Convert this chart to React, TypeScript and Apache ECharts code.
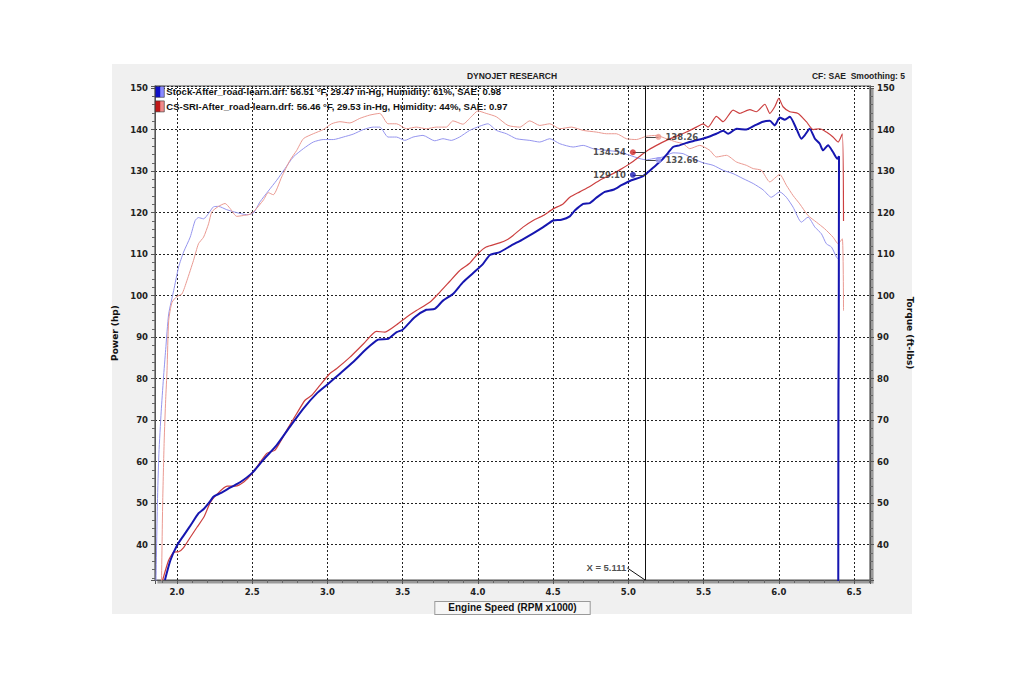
import React, { useEffect, useRef } from "react";
import * as echarts from "echarts";

// ---- data (RPM x1000, hp / ft-lbs) ----
const stockHpRpm = [1.92, 1.956, 2.0, 2.044, 2.089, 2.144, 2.178, 2.211, 2.244, 2.289, 2.356, 2.422, 2.5, 2.575, 2.663, 2.75, 2.84, 2.928, 3.0, 3.083, 3.171, 3.26, 3.337, 3.404, 3.46, 3.5, 3.58, 3.657, 3.713, 3.768, 3.834, 3.9, 3.967, 4.033, 4.08, 4.146, 4.223, 4.29, 4.367, 4.434, 4.5, 4.555, 4.611, 4.644, 4.7, 4.744, 4.788, 4.843, 4.9, 4.954, 5.02, 5.087, 5.12, 5.164, 5.22, 5.264, 5.297, 5.34, 5.386, 5.45, 5.52, 5.585, 5.63, 5.663, 5.72, 5.784, 5.84, 5.895, 5.94, 5.973, 6.006, 6.04, 6.073, 6.117, 6.15, 6.172, 6.205, 6.24, 6.272, 6.294, 6.327, 6.36, 6.389, 6.4, 6.398, 6.396, 6.395];
const stockHpVal = [31.5, 36.2, 39.8, 42.2, 44.6, 47.6, 48.6, 50.0, 51.6, 52.4, 53.8, 55.1, 57.3, 60.5, 64.0, 68.4, 72.8, 76.4, 78.6, 81.2, 84.0, 87.2, 89.4, 89.6, 91.2, 91.8, 94.8, 96.6, 96.8, 98.8, 100.4, 103.2, 105.4, 107.6, 109.8, 110.5, 112.1, 113.4, 115.0, 116.5, 118.1, 118.3, 119.1, 120.5, 122.1, 122.3, 123.6, 125.0, 125.5, 126.6, 127.8, 128.6, 129.4, 130.8, 132.6, 134.4, 135.8, 136.2, 136.8, 137.4, 138.1, 139.0, 139.7, 139.0, 140.2, 140.0, 141.0, 141.9, 142.1, 141.0, 142.9, 142.4, 143.1, 140.2, 137.8, 138.6, 140.2, 137.8, 136.6, 135.0, 136.2, 134.6, 133.0, 133.6, 90, 76, 30];

const sriHpRpm = [1.905, 1.944, 1.978, 2.011, 2.044, 2.089, 2.133, 2.178, 2.222, 2.267, 2.333, 2.389, 2.444, 2.5, 2.597, 2.652, 2.73, 2.796, 2.851, 2.896, 2.95, 3.018, 3.06, 3.15, 3.24, 3.326, 3.38, 3.46, 3.525, 3.591, 3.68, 3.746, 3.812, 3.878, 3.945, 4.0, 4.055, 4.144, 4.2, 4.234, 4.3, 4.367, 4.434, 4.5, 4.566, 4.611, 4.677, 4.744, 4.81, 4.876, 4.943, 5.01, 5.077, 5.12, 5.187, 5.253, 5.32, 5.386, 5.452, 5.497, 5.53, 5.585, 5.63, 5.696, 5.74, 5.807, 5.85, 5.907, 5.94, 5.973, 6.0, 6.028, 6.073, 6.128, 6.183, 6.228, 6.272, 6.316, 6.36, 6.394, 6.422, 6.43];
const sriHpVal = [31.5, 36.2, 38.2, 38.3, 39.3, 41.8, 44.2, 46.6, 50.2, 52.2, 54.1, 54.1, 55.1, 57.2, 62.0, 62.8, 67.6, 71.6, 74.8, 76.0, 78.4, 81.3, 82.4, 85.2, 88.4, 91.4, 91.2, 93.0, 94.8, 96.4, 98.4, 100.8, 103.4, 106.0, 107.8, 110.1, 111.7, 112.7, 113.6, 114.5, 116.5, 118.1, 119.3, 120.9, 122.1, 123.7, 125.0, 126.3, 127.8, 129.0, 130.3, 131.8, 133.6, 134.8, 136.2, 137.4, 138.4, 139.4, 140.6, 141.4, 140.6, 143.2, 141.9, 144.7, 143.9, 144.8, 144.3, 146.1, 143.9, 145.5, 147.5, 145.5, 144.3, 143.9, 141.9, 140.0, 140.2, 139.4, 138.2, 137.0, 139.0, 118.0];

const stockTqRpm = [1.86, 1.87, 1.88, 1.895, 1.91, 1.925, 1.945, 1.978, 2.011, 2.044, 2.088, 2.121, 2.143, 2.177, 2.21, 2.243, 2.276, 2.331, 2.397, 2.464, 2.508, 2.552, 2.607, 2.663, 2.718, 2.773, 2.84, 2.906, 2.972, 3.039, 3.105, 3.171, 3.238, 3.304, 3.348, 3.403, 3.459, 3.514, 3.569, 3.635, 3.713, 3.768, 3.823, 3.878, 3.945, 4.011, 4.066, 4.123, 4.19, 4.256, 4.345, 4.411, 4.478, 4.544, 4.633, 4.7, 4.766, 4.854, 4.943, 5.01, 5.077, 5.12, 5.164, 5.23, 5.297, 5.364, 5.43, 5.497, 5.563, 5.63, 5.696, 5.762, 5.83, 5.895, 5.95, 6.006, 6.05, 6.095, 6.15, 6.194, 6.24, 6.283, 6.316, 6.35, 6.383, 6.4, 6.397];
const stockTqVal = [30, 50, 62, 72, 80, 87, 95.6, 101.2, 106.9, 110.5, 114.1, 118.1, 118.8, 118.5, 119.8, 121.4, 121.5, 120.7, 120.0, 119.5, 119.9, 122.6, 125.2, 127.8, 130.6, 133.4, 135.4, 137.0, 137.6, 137.6, 138.2, 138.9, 140.0, 140.6, 140.6, 138.2, 138.2, 137.4, 138.2, 138.6, 137.3, 137.8, 137.4, 138.2, 139.8, 140.8, 141.4, 139.8, 139.0, 137.8, 137.4, 137.0, 137.8, 136.6, 135.8, 136.2, 135.4, 135.0, 134.6, 133.8, 133.0, 132.7, 133.0, 133.4, 134.4, 134.2, 133.0, 132.0, 131.4, 130.2, 129.4, 128.2, 127.0, 125.5, 123.7, 125.0, 123.7, 121.3, 117.7, 118.9, 116.5, 114.9, 112.5, 111.7, 109.3, 108.5, 30];

const sriTqRpm = [1.897, 1.905, 1.915, 1.925, 1.934, 1.945, 1.967, 2.0, 2.033, 2.066, 2.11, 2.143, 2.177, 2.21, 2.232, 2.276, 2.32, 2.353, 2.397, 2.441, 2.486, 2.519, 2.574, 2.607, 2.64, 2.696, 2.751, 2.796, 2.84, 2.906, 2.972, 3.028, 3.083, 3.149, 3.215, 3.282, 3.348, 3.403, 3.459, 3.525, 3.591, 3.657, 3.724, 3.79, 3.834, 3.9, 3.956, 4.0, 4.055, 4.122, 4.2, 4.278, 4.345, 4.411, 4.478, 4.544, 4.622, 4.7, 4.788, 4.854, 4.92, 4.987, 5.053, 5.12, 5.187, 5.253, 5.32, 5.364, 5.408, 5.475, 5.541, 5.585, 5.652, 5.718, 5.784, 5.83, 5.884, 5.94, 6.006, 6.05, 6.095, 6.139, 6.194, 6.25, 6.305, 6.36, 6.394, 6.422, 6.43];
const sriTqVal = [30, 50, 65, 75, 82, 94, 98.4, 99.8, 100.4, 103.6, 108.5, 112.5, 114.1, 117.3, 120.2, 121.5, 122.2, 121.0, 119.1, 119.3, 119.6, 120.6, 123.0, 124.8, 124.3, 128.6, 132.6, 135.0, 137.8, 139.0, 140.0, 141.4, 141.9, 141.6, 142.7, 143.5, 143.9, 141.4, 141.4, 140.2, 140.6, 140.2, 140.6, 140.6, 142.1, 141.3, 143.1, 144.5, 143.9, 143.1, 141.0, 140.6, 142.1, 141.0, 141.4, 140.2, 140.6, 139.8, 139.4, 139.0, 139.0, 137.8, 137.6, 138.4, 138.6, 137.8, 137.0, 136.6, 135.4, 136.2, 135.0, 133.4, 133.8, 132.2, 131.4, 130.6, 130.2, 127.4, 129.2, 126.6, 124.1, 122.1, 119.3, 117.7, 116.1, 114.1, 112.5, 113.7, 96.4];

// cursor readout
const cursorRpm = 5.111;
const readoutValues = [129.1, 134.54, 132.66, 138.26]; // stock hp, sri hp, stock tq, sri tq
const readoutLabels = ["129.10", "134.54", "132.66", "138.26"];
const readoutDotRpm = [5.03, 5.03, 5.2, 5.2];
const readoutColors = ["#1a1ab4", "#d02828", "#9a9af0", "#ec9a90"];
const readoutSides = ["left", "left", "right", "right"];
const cursorLabelAnchor = [4.993, 34.4];
const cursorAxisPoint = [5.111, 31.5];

const legendNames = [
  "Stock-After_road-learn.drf: 56.51 \u00B0F, 29.47 in-Hg, Humidity: 61%, SAE: 0.98",
  "CS-SRI-After_road-learn.drf: 56.46 \u00B0F, 29.53 in-Hg, Humidity: 44%, SAE: 0.97",
];

const zip = (a: number[], b: number[]) => a.map((x, i) => [x, b[i]]);

const tickFont = {
  fontFamily: "DejaVu Sans",
  fontWeight: "bold" as const,
  fontSize: 8.5,
  color: "#222",
};

export default function App() {
  const ref = useRef<HTMLDivElement>(null);
  useEffect(() => {
    const chart = echarts.init(ref.current!, null, { renderer: "svg" });
    const grad = (dark: string, light: string) => ({
      type: "linear",
      x: 0,
      y: 0,
      x2: 1,
      y2: 0,
      colorStops: [
        { offset: 0, color: dark },
        { offset: 0.5, color: dark },
        { offset: 0.6, color: light },
        { offset: 1, color: light },
      ],
    });
    const option: any = {
      animation: false,
      backgroundColor: "#ffffff",
      graphic: [
        {
          type: "rect",
          z: -5,
          silent: true,
          shape: { x: 112, y: 64, width: 800, height: 550 },
          style: { fill: "#f0f0f0" },
        },
      ],
      title: [
        {
          text: "DYNOJET RESEARCH",
          left: "center",
          top: 66,
          textStyle: { fontFamily: "Liberation Sans", fontWeight: "bold", fontSize: 8.5, color: "#222" },
        },
        {
          text: "CF: SAE  Smoothing: 5",
          right: 114,
          top: 66,
          textStyle: { fontFamily: "Liberation Sans", fontWeight: "bold", fontSize: 8.5, color: "#222" },
        },
      ],
      legend: {
        show: true,
        orient: "vertical",
        left: 155,
        top: 86,
        icon: "rect",
        itemWidth: 9,
        itemHeight: 11,
        itemGap: 3,
        padding: 0,
        selectedMode: false,
        textStyle: { fontFamily: "Liberation Sans", fontWeight: "bold", fontSize: 9.5, color: "#111", padding: [0, 0, 0, -3] },
        data: [
          { name: legendNames[0], itemStyle: { color: grad("#1010c8", "#8a8aff"), borderColor: "#333", borderWidth: 0.6 } },
          { name: legendNames[1], itemStyle: { color: grad("#c01818", "#f08a8a"), borderColor: "#333", borderWidth: 0.6 } },
        ],
      },
      grid: {
        show: true,
        left: 155,
        right: 154,
        top: 86,
        bottom: 103,
        backgroundColor: "#ffffff",
        borderColor: "#555",
        borderWidth: 1.2,
        shadowColor: "#9a9a9a",
        shadowOffsetX: 3,
        shadowOffsetY: 3,
        shadowBlur: 0,
      },
      xAxis: {
        type: "value",
        min: 1.854,
        max: 6.606,
        minInterval: 0.5,
        maxInterval: 0.5,
        name: "Engine Speed (RPM x1000)",
        nameLocation: "middle",
        nameGap: 16,
        nameTextStyle: {
          fontFamily: "Liberation Sans",
          fontWeight: "bold",
          fontSize: 10,
          color: "#111",
          backgroundColor: "#f6f6f6",
          borderColor: "#9a9a9a",
          borderWidth: 1,
          padding: [1, 13, 1, 13],
          verticalAlign: "top",
        },
        axisLine: { show: true, lineStyle: { color: "#555", width: 1 } },
        axisTick: { show: true, length: 4, lineStyle: { color: "#555" } },
        minorTick: { show: true, splitNumber: 5, length: 3, lineStyle: { color: "#666" } },
        axisLabel: {
          ...tickFont,
          margin: 7,
          formatter: (v: number) => (Math.abs(v * 2 - Math.round(v * 2)) < 1e-6 ? v.toFixed(1) : ""),
        },
        splitLine: { show: true, lineStyle: { color: "#222", type: [2, 2], width: 1 } },
      },
      yAxis: [
        {
          type: "value",
          position: "left",
          min: 31.5,
          max: 150.5,
          minInterval: 10,
          maxInterval: 10,
          name: "Power (hp)",
          nameLocation: "middle",
          nameRotate: 90,
          nameGap: 30,
          nameTextStyle: { fontFamily: "DejaVu Sans", fontWeight: "bold", fontSize: 9, color: "#111" },
          axisLine: { show: true, lineStyle: { color: "#555" } },
          axisTick: { show: true, length: 4, lineStyle: { color: "#555" } },
          minorTick: { show: true, splitNumber: 5, length: 3, lineStyle: { color: "#666" } },
          axisLabel: {
            ...tickFont,
            margin: 7,
            formatter: (v: number) => (Math.abs(v % 10) < 1e-6 ? String(v) : ""),
          },
          splitLine: { show: true, lineStyle: { color: "#222", type: [2, 2], width: 1 } },
        },
        {
          type: "value",
          position: "right",
          min: 31.5,
          max: 150.5,
          minInterval: 10,
          maxInterval: 10,
          name: "Torque (ft-lbs)",
          nameLocation: "middle",
          nameRotate: -90,
          nameGap: 28,
          nameTextStyle: { fontFamily: "DejaVu Sans", fontWeight: "bold", fontSize: 9, color: "#111" },
          axisLine: { show: true, lineStyle: { color: "#555" } },
          axisTick: { show: true, length: 4, lineStyle: { color: "#555" } },
          minorTick: { show: true, splitNumber: 5, length: 3, lineStyle: { color: "#666" } },
          axisLabel: {
            ...tickFont,
            margin: 7,
            formatter: (v: number) => (Math.abs(v % 10) < 1e-6 ? String(v) : ""),
          },
          splitLine: { show: false },
        },
      ],
      series: [
        {
          name: "Stock torque",
          type: "line",
          yAxisIndex: 1,
          data: zip(stockTqRpm, stockTqVal),
          showSymbol: false,
          smooth: 0.2,
          z: 2,
          lineStyle: { color: "#9595ee", width: 1 },
          itemStyle: { color: "#9595ee" },
        },
        {
          name: "CS-SRI torque",
          type: "line",
          yAxisIndex: 1,
          data: zip(sriTqRpm, sriTqVal),
          showSymbol: false,
          smooth: 0.2,
          z: 2,
          lineStyle: { color: "#ea9a92", width: 1 },
          itemStyle: { color: "#ea9a92" },
        },
        {
          name: legendNames[1],
          type: "line",
          data: zip(sriHpRpm, sriHpVal),
          showSymbol: false,
          smooth: 0.2,
          z: 3,
          lineStyle: { color: "#cc4040", width: 1.2 },
          itemStyle: { color: "#cc4040" },
        },
        {
          name: legendNames[0],
          type: "line",
          data: zip(stockHpRpm, stockHpVal),
          showSymbol: false,
          smooth: 0.2,
          z: 4,
          lineStyle: { color: "#1616b0", width: 2 },
          itemStyle: { color: "#1616b0" },
          markLine: {
            silent: true,
            symbol: ["none", "none"],
            label: { show: false },
            lineStyle: { color: "#111", width: 1, type: "solid" },
            data: [
              [{ coord: [cursorRpm, 150.5] }, { coord: [cursorRpm, 31.5] }],
              [{ coord: cursorLabelAnchor }, { coord: cursorAxisPoint }],
            ],
          },
        },
        {
          name: "readout",
          type: "scatter",
          z: 6,
          symbol: "circle",
          symbolSize: 6,
          data: readoutValues.map((v, i) => ({
            value: [readoutDotRpm[i], v],
            itemStyle: { color: readoutColors[i] },
            label: {
              show: true,
              position: readoutSides[i],
              distance: 4,
              formatter: readoutLabels[i],
              fontFamily: "DejaVu Sans",
              fontWeight: "bold",
              fontSize: 8.5,
              color: "#222",
            },
          })),
          markLine: {
            silent: true,
            symbol: ["none", "none"],
            label: { show: false },
            lineStyle: { color: "#444", width: 1, type: "solid" },
            data: readoutValues.map((v, i) => [
              { coord: [readoutDotRpm[i], v] },
              { coord: [cursorRpm, v] },
            ]),
          },
        },
        {
          name: "cursorLabel",
          type: "scatter",
          symbolSize: 0,
          z: 6,
          data: [
            {
              value: cursorLabelAnchor,
              label: {
                show: true,
                position: "left",
                distance: 1,
                formatter: "X = " + cursorRpm.toFixed(3),
                fontFamily: "Liberation Sans Narrow, Liberation Sans",
                fontWeight: "bold",
                fontSize: 9.5,
                color: "#222",
              },
            },
          ],
        },
      ],
    };
    chart.setOption(option);
    return () => chart.dispose();
  }, []);
  return (
    <div
      ref={ref}
      style={{ position: "absolute", left: 0, top: 0, width: 1024, height: 683, background: "#fff" }}
    />
  );
}
